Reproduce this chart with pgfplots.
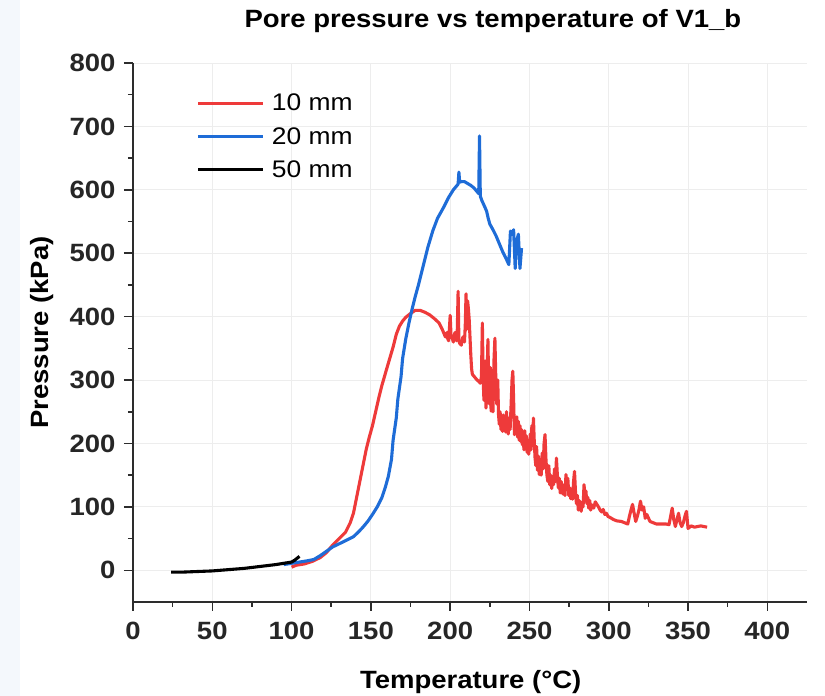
\documentclass[border=0pt]{standalone}
\usepackage{fontspec}
\setmainfont{Liberation Sans}[FakeStretch=1.1]
\usepackage{pgfplots}
\pgfplotsset{compat=1.18}
\definecolor{cred}{RGB}{238,58,58}
\definecolor{cblue}{RGB}{30,108,215}
\definecolor{axcol}{RGB}{45,45,45}
\definecolor{bgblue}{RGB}{244,248,252}
\begin{document}
\begin{tikzpicture}
\useasboundingbox (0,0) rectangle (825pt,696pt);
\fill[bgblue] (0,0) rectangle (20pt,696pt);
\fill[white] (20pt,0) rectangle (825pt,696pt);
\begin{axis}[
  at={(133pt,94pt)}, anchor=south west,
  scale only axis, width=674pt, height=539pt,
  xmin=0, xmax=425, ymin=-50, ymax=800,
  axis x line=bottom, axis y line=left,
  axis line style={-, line width=1.8pt, color=axcol},
  xtick={0,50,...,400}, ytick={0,100,...,800},
  minor x tick num=1, minor y tick num=1,
  tick align=outside,
  major tick length=9pt, minor tick length=5pt,
  every tick/.style={line width=1.5pt, color=axcol},
  grid=major,
  major grid style={line width=0.8pt, color=black!7},
  /pgf/number format/assume math mode=true,
  ticklabel style={font=\fontsize{25}{28}\selectfont\bfseries, color=black!85},
  xticklabel style={yshift=-8pt},
  yticklabel style={xshift=-5pt},
  title={Pore pressure vs temperature of V1\_b},
  title style={at={(axis description cs:0.534,1.054)}, anchor=base, font=\fontsize{25}{28}\selectfont\bfseries},
  xlabel={Temperature (°C)},
  xlabel style={at={(axis description cs:0.501,-0.1614)}, anchor=base, font=\fontsize{25}{28}\selectfont\bfseries},
  ylabel={Pressure (kPa)},
  ylabel style={at={(axis description cs:-0.125,0.5)}, anchor=base, rotate=0, font=\fontsize{25}{28}\selectfont\bfseries},
  legend style={at={(axis description cs:0.09,0.95)}, anchor=north west, draw=none, fill=none,
    font=\fontsize{24}{26}\selectfont, row sep=11pt},
  legend cell align=left,
  legend image code/.code={\draw[#1] (0pt,0pt) -- (65pt,0pt); \path (70pt,0pt);},
  clip=true,
]
\addplot[cred, line width=3.1pt, line join=round] coordinates {
(100,5)(103,8)(108,10)(113,14)(118,20)(122,28)(126,40)(130,50)(134,60)(137,75)(139,90)(141,115)(143,140)(145,165)(147,190)(149,210)(151,228)(153,250)(155,272)(157,292)(160,318)(162,335)(164,352)(166,372)(168,385)(170,393)(172,399)(175,405)(178,410)(181,410)(184,407)(187,403)(190,397)(193,390)(195,380)(197,368)(198,375)(198.5,365)(199,362)(199.5,380)(200,402)(200.5,372)(201,368)(202,360)(203,375)(204,362)(204.5,380)(205,440)(205.5,362)(206,358)(207,355)(208,368)(209,360)(209.5,385)(210,436)(210.5,380)(211,425)(211.5,412)(212,395)(213,340)(213.5,318)(214,309)(215,306)(216,303)(217,300)(218,298)(219,295)(219.7,305)(220.3,390)(220.8,300)(221.3,268)(222,330)(222.6,256)(223.2,300)(223.8,364)(224.3,290)(224.8,262)(225.3,320)(225.8,251)(226.4,290)(227,250)(227.6,330)(228.2,366)(228.8,300)(229.4,262)(230,300)(230.5,245)(231,230)(231.5,250)(232,222)(232.5,240)(233,219)(233.5,245)(234,225)(234.5,236)(235,218)(235.5,250)(236,228)(236.6,215)(237.2,240)(237.8,222)(238.4,260)(239,300)(239.5,314)(240,270)(240.5,214)(241,240)(241.5,222)(242,242)(242.5,210)(243,235)(243.5,205)(244,228)(244.5,203)(245,222)(245.5,198)(246,215)(246.5,190)(247,220)(247.5,200)(248,212)(248.5,186)(249,205)(249.5,183)(250,195)(250.5,215)(251,190)(251.5,228)(252,200)(252.5,240)(253,205)(253.5,178)(254,165)(254.5,195)(255,158)(255.6,180)(256.2,151)(256.8,170)(257.4,150)(258,185)(258.6,160)(259.2,200)(259.8,214)(260.4,175)(261,150)(261.6,140)(262.2,165)(262.8,135)(263.4,150)(264,129)(264.6,145)(265.2,135)(265.8,160)(266.4,140)(267,177)(267.6,150)(268.2,130)(268.8,145)(269.4,122)(270,140)(270.6,125)(271.2,120)(271.8,135)(272.4,118)(273,151)(273.6,128)(274.2,145)(274.8,118)(275.4,130)(276,113)(276.6,125)(277.2,112)(277.8,140)(278.4,156)(279,125)(279.6,105)(280.2,118)(280.8,95)(281.4,110)(282,100)(282.6,93)(283.2,108)(283.8,100)(284.4,135)(285,118)(285.6,125)(286.2,105)(286.8,115)(287.4,98)(288,110)(288.6,95)(289.5,103)(290.5,98)(291.5,108)(292.5,104)(293.5,100)(294.5,95)(295.5,92)(296.5,96)(297.5,88)(298.5,90)(299.5,85)(301,83)(303,80)(305,78)(308,77)(310,75)(312,73)(313,85)(314,95)(315,104)(316,90)(317,77)(318,85)(319,95)(320,109)(321,95)(322,100)(323,82)(324,88)(326,77)(328,75)(330,73)(333,73)(336,73)(338,72)(340,98)(341,80)(342,69)(343,80)(344,90)(345,75)(346,69)(347,75)(348,85)(349,93)(350,66)(352,70)(354,68)(356,69)(358,70)(360,69)(362,68)
};
\addlegendentry{10 mm}
\addplot[cblue, line width=3.1pt, line join=round] coordinates {
(95,9)(100,11)(105,13)(110,15)(114,17)(118,23)(122,30)(126,37)(131,43)(135,48)(139,53)(142,60)(145,68)(148,77)(151,88)(154,100)(157,115)(159,130)(161,148)(163,175)(164,205)(166,240)(167,270)(169,305)(170,334)(172,365)(174,390)(176,412)(178,432)(180,450)(183,480)(186,510)(189,535)(192,555)(196,573)(199,588)(202,600)(204,606)(205,609)(205.5,628)(206,612)(207,613)(209,613)(211,610)(213,607)(215,603)(217,597)(218,594)(218.5,685)(219,590)(220,583)(222,572)(223,566)(224,555)(225,546)(227,537)(229,527)(231,515)(233,503)(235,493)(237,482)(238,535)(239,530)(240,537)(241,476)(242,520)(243,530)(244,476)(245,508)
};
\addlegendentry{20 mm}
\addplot[black, line width=3.1pt, line join=round] coordinates {
(24,-3)(30,-3)(40,-2)(50,-1)(60,1)(70,3)(80,6)(90,9)(95,11)(100,13)(102,16)(104,20)(105,22)
};
\addlegendentry{50 mm}
\end{axis}
\end{tikzpicture}
\end{document}
